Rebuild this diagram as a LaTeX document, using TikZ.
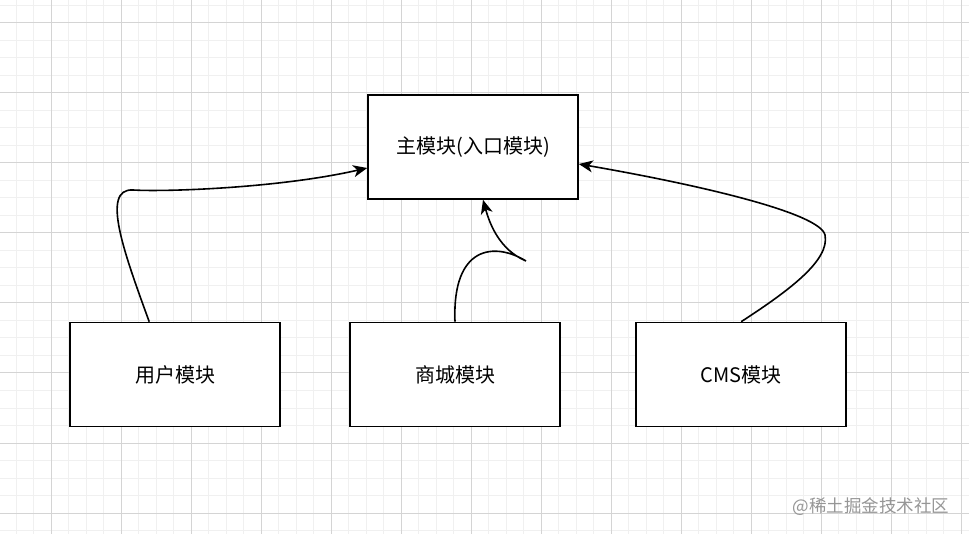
\documentclass[tikz,border=0pt]{standalone}
\usepackage{fontspec}
\setmainfont{Noto Sans CJK SC}
\usetikzlibrary{arrows.meta,calc}
\definecolor{gridmajor}{RGB}{212,212,212}
\definecolor{gridminor}{RGB}{240,240,240}
\definecolor{wm}{RGB}{150,150,150}
\tikzset{
  box/.style={draw=black, line width=1.6pt, fill=white, minimum width=210pt, minimum height=104pt, inner sep=0pt, font=\fontsize{20}{24}\selectfont},
  link/.style={draw=black, line width=1.6pt, -{Stealth[length=14pt,width=12pt,inset=4pt]}},
  minorline/.style={draw=gridminor, line width=1pt},
  majorline/.style={draw=gridmajor, line width=1pt}
}
\begin{document}
\begin{tikzpicture}[x=1pt,y=-1pt]
\useasboundingbox (0,0) rectangle (969,534);
\fill[white] (0,0) rectangle (969,534);
% grid
\foreach \i in {0,...,55} {\draw[minorline] ({16+17.5*\i},0) -- ({16+17.5*\i},534);}
\foreach \i in {0,...,30} {\draw[minorline] (0,{5.5+17.5*\i}) -- (969,{5.5+17.5*\i});}
\foreach \i in {0,...,13} {\draw[majorline] ({51+70*\i},0) -- ({51+70*\i},534);}
\foreach \i in {0,...,7} {\draw[majorline] (0,{23+70*\i}) -- (969,{23+70*\i});}
% nodes
\node[box] (main) at (473,147) {主模块(入口模块)};
\node[box] (user) at (175,374.5) {用户模块};
\node[box] (shop) at (455,374.5) {商城模块};
\node[box] (cms) at (741,374.5) {CMS模块};
% connectors
\draw[link] ($(user.north west)+(80,0)$) .. controls (125,255) and (100,188) .. (133,190)
  .. controls (166,192) and (280,188) .. ($(main.west)+(0,21)$);
\draw[link] (shop.north) .. controls (452,245) and (495,242) .. (526,261)
  .. controls (500,250) and (490,225) .. ($(main.south)+(10,0)$);
\draw[link] ($(cms.north west)+(106,0)$) .. controls (790,290) and (830,260) .. (825,235)
  .. controls (820,213) and (700,185) .. ($(main.east)+(0,17)$);
% watermark
\node[text=wm, font=\fontsize{17.5}{20}\selectfont, anchor=east] (wmark) at (953,507) {@稀土掘金技术社区};
\end{tikzpicture}
\end{document}
